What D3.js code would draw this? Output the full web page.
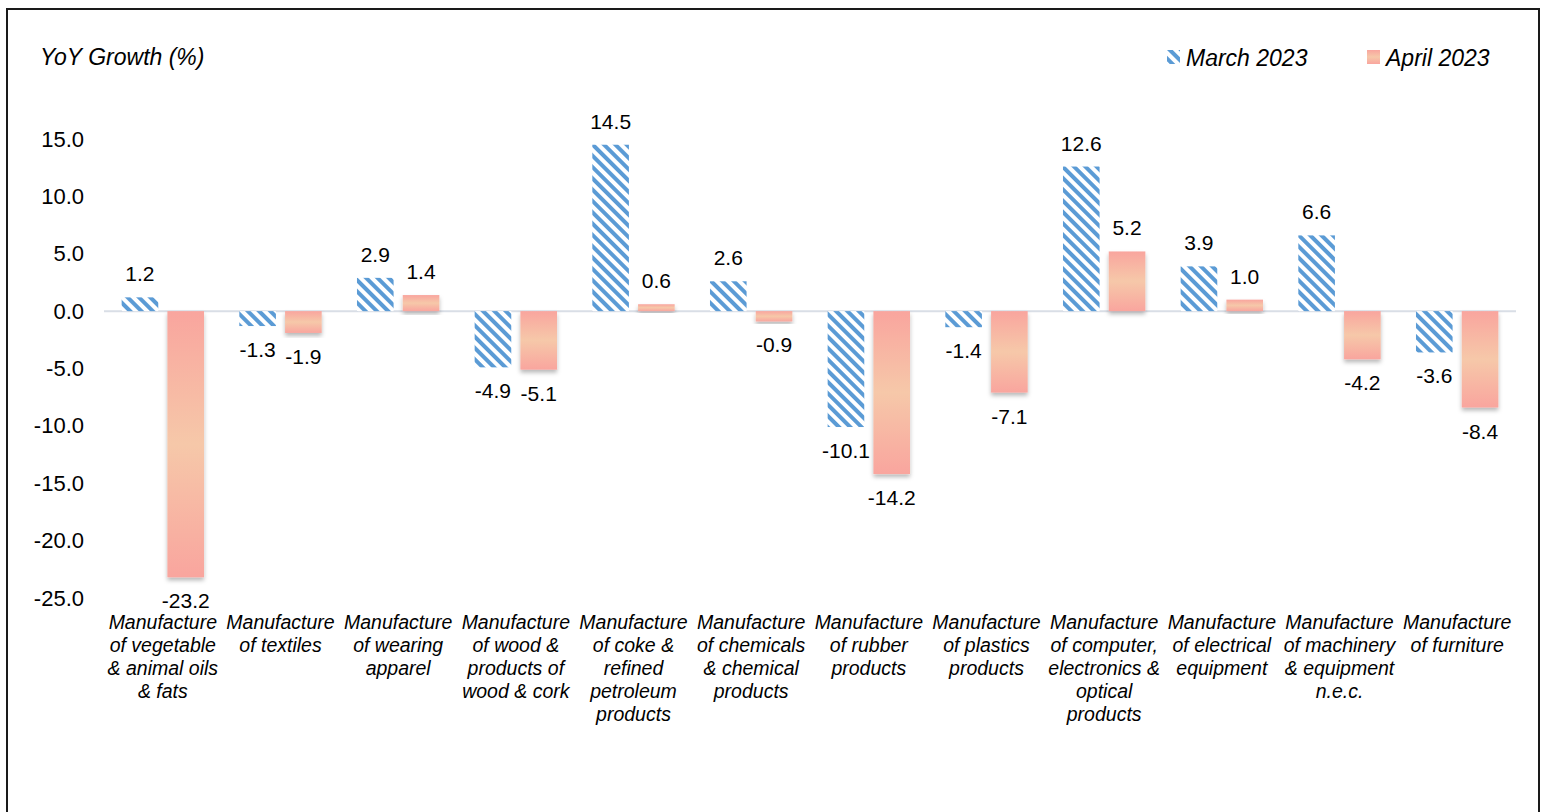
<!DOCTYPE html>
<html>
<head>
<meta charset="utf-8">
<script src="https://cdn.jsdelivr.net/npm/d3@7"></script>
<style>
  html, body { margin: 0; padding: 0; background: #fff; }
  svg { display: block; font-family: "Liberation Sans", Arial, sans-serif; }
</style>
</head>
<body>
<svg id="chart" width="1542" height="812"></svg>
<script>
// categories (line breaks as in the original axis labels)
const categories = [
  "Manufacture\nof vegetable\n& animal oils\n& fats",
  "Manufacture\nof textiles",
  "Manufacture\nof wearing\napparel",
  "Manufacture\nof wood &\nproducts of\nwood & cork",
  "Manufacture\nof coke &\nrefined\npetroleum\nproducts",
  "Manufacture\nof chemicals\n& chemical\nproducts",
  "Manufacture\nof rubber\nproducts",
  "Manufacture\nof plastics\nproducts",
  "Manufacture\nof computer,\nelectronics &\noptical\nproducts",
  "Manufacture\nof electrical\nequipment",
  "Manufacture\nof machinery\n& equipment\nn.e.c.",
  "Manufacture\nof furniture"
];
const seriesNames = ["March 2023", "April 2023"];
const march2023 = [1.2, -1.3, 2.9, -4.9, 14.5, 2.6, -10.1, -1.4, 12.6, 3.9, 6.6, -3.6];
const april2023 = [-23.2, -1.9, 1.4, -5.1, 0.6, -0.9, -14.2, -7.1, 5.2, 1.0, -4.2, -8.4];
const yTicks = [15, 10, 5, 0, -5, -10, -15, -20, -25];

const svg = d3.select('#chart');

// plain hyphen for negatives, like the original
const fmt = v => d3.format('.1f')(v).replace('\u2212', '-');

// frame
svg.append('rect')
  .attr('x', 7).attr('y', 9)
  .attr('width', 1532).attr('height', 830)
  .attr('fill', 'none')
  .attr('stroke', '#1a1a1a')
  .attr('stroke-width', 2);

const defs = svg.append('defs');

// diagonal hatch for March
const hatch = defs.append('pattern')
  .attr('id', 'hatch')
  .attr('patternUnits', 'userSpaceOnUse')
  .attr('width', 8).attr('height', 8)
  .attr('patternTransform', 'rotate(-45)');
hatch.append('rect').attr('width', 8).attr('height', 8).attr('fill', '#fff');
hatch.append('rect').attr('x', 0).attr('width', 4).attr('height', 8).attr('fill', '#5b9bd5');

// pink-peach-pink gradient for April
const grad = defs.append('linearGradient')
  .attr('id', 'aprGrad')
  .attr('x1', 0).attr('y1', 0).attr('x2', 0).attr('y2', 1);
grad.append('stop').attr('offset', '0%').attr('stop-color', '#f9a59e');
grad.append('stop').attr('offset', '50%').attr('stop-color', '#f6c8a9');
grad.append('stop').attr('offset', '100%').attr('stop-color', '#f9a59e');

const shadow = defs.append('filter')
  .attr('id', 'shadow')
  .attr('x', '-20%').attr('y', '-20%').attr('width', '140%').attr('height', '140%');
shadow.append('feDropShadow')
  .attr('dx', 0).attr('dy', 3)
  .attr('stdDeviation', 2)
  .attr('flood-color', '#000')
  .attr('flood-opacity', 0.28);

// scales
const x = d3.scaleBand()
  .domain(d3.range(categories.length))
  .range([104, 1516])
  .paddingInner(0.3)
  .paddingOuter(0.15);

const xSub = d3.scaleBand()
  .domain([0, 1])
  .range([0, x.bandwidth()])
  .paddingInner(0.2);

const y = d3.scaleLinear()
  .domain([-25, 15])
  .range([598, 139]);

// y tick labels (no axis line)
const yAxis = svg.append('g')
  .attr('transform', 'translate(84,0)')
  .call(d3.axisLeft(y).tickValues(yTicks).tickFormat(fmt).tickSize(0).tickPadding(0));
yAxis.select('.domain').remove();
yAxis.selectAll('text')
  .attr('font-family', '"Liberation Sans", Arial, sans-serif')
  .attr('font-size', 22)
  .attr('fill', '#000');

// zero line
svg.append('line')
  .attr('x1', 104).attr('x2', 1516)
  .attr('y1', y(0)).attr('y2', y(0))
  .attr('stroke', '#d9dee6')
  .attr('stroke-width', 2);

const data = categories.map((c, i) => ({ i, vals: [march2023[i], april2023[i]] }));

const groups = svg.append('g').selectAll('g')
  .data(data)
  .enter().append('g')
  .attr('transform', d => `translate(${x(d.i)},0)`);

// bars
groups.selectAll('rect')
  .data(d => d.vals.map((v, s) => ({ v, s })))
  .enter().append('rect')
  .attr('x', d => xSub(d.s))
  .attr('width', xSub.bandwidth())
  .attr('y', d => Math.min(y(d.v), y(0)))
  .attr('height', d => Math.abs(y(d.v) - y(0)))
  .attr('fill', d => d.s === 0 ? 'url(#hatch)' : 'url(#aprGrad)')
  .attr('filter', d => d.s === 1 ? 'url(#shadow)' : null);

// value labels
groups.selectAll('text.val')
  .data(d => d.vals.map((v, s) => ({ v, s })))
  .enter().append('text')
  .attr('class', 'val')
  .attr('x', d => xSub(d.s) + xSub.bandwidth() / 2)
  .attr('y', d => d.v >= 0 ? y(d.v) - 16 : y(d.v) + 31)
  .attr('text-anchor', 'middle')
  .attr('font-size', 21)
  .attr('fill', '#000')
  .text(d => fmt(d.v));

// category labels
const catLabels = svg.append('g').selectAll('text')
  .data(categories)
  .enter().append('text')
  .attr('x', (d, i) => x(i) + x.bandwidth() / 2)
  .attr('y', 629)
  .attr('text-anchor', 'middle')
  .attr('font-size', 19.5)
  .attr('font-style', 'italic')
  .attr('fill', '#000');
catLabels.selectAll('tspan')
  .data(d => d.split('\n'))
  .enter().append('tspan')
  .attr('x', function () { return d3.select(this.parentNode).attr('x'); })
  .attr('dy', (d, i) => i === 0 ? 0 : 23)
  .text(d => d);

// axis title
svg.append('text')
  .attr('x', 40).attr('y', 65)
  .attr('font-size', 23)
  .attr('font-style', 'italic')
  .attr('fill', '#000')
  .text('YoY Growth (%)');

// legend
const legendX = [1167, 1367];
const legend = svg.append('g').selectAll('g')
  .data(seriesNames)
  .enter().append('g')
  .attr('transform', (d, i) => `translate(${legendX[i]},50)`);
legend.append('rect')
  .attr('width', 13).attr('height', 14)
  .attr('fill', (d, i) => i === 0 ? 'url(#hatch)' : 'url(#aprGrad)');
legend.append('text')
  .attr('x', 19).attr('y', 16)
  .attr('font-size', 23)
  .attr('font-style', 'italic')
  .attr('fill', '#000')
  .text(d => d);
</script>
</body>
</html>
